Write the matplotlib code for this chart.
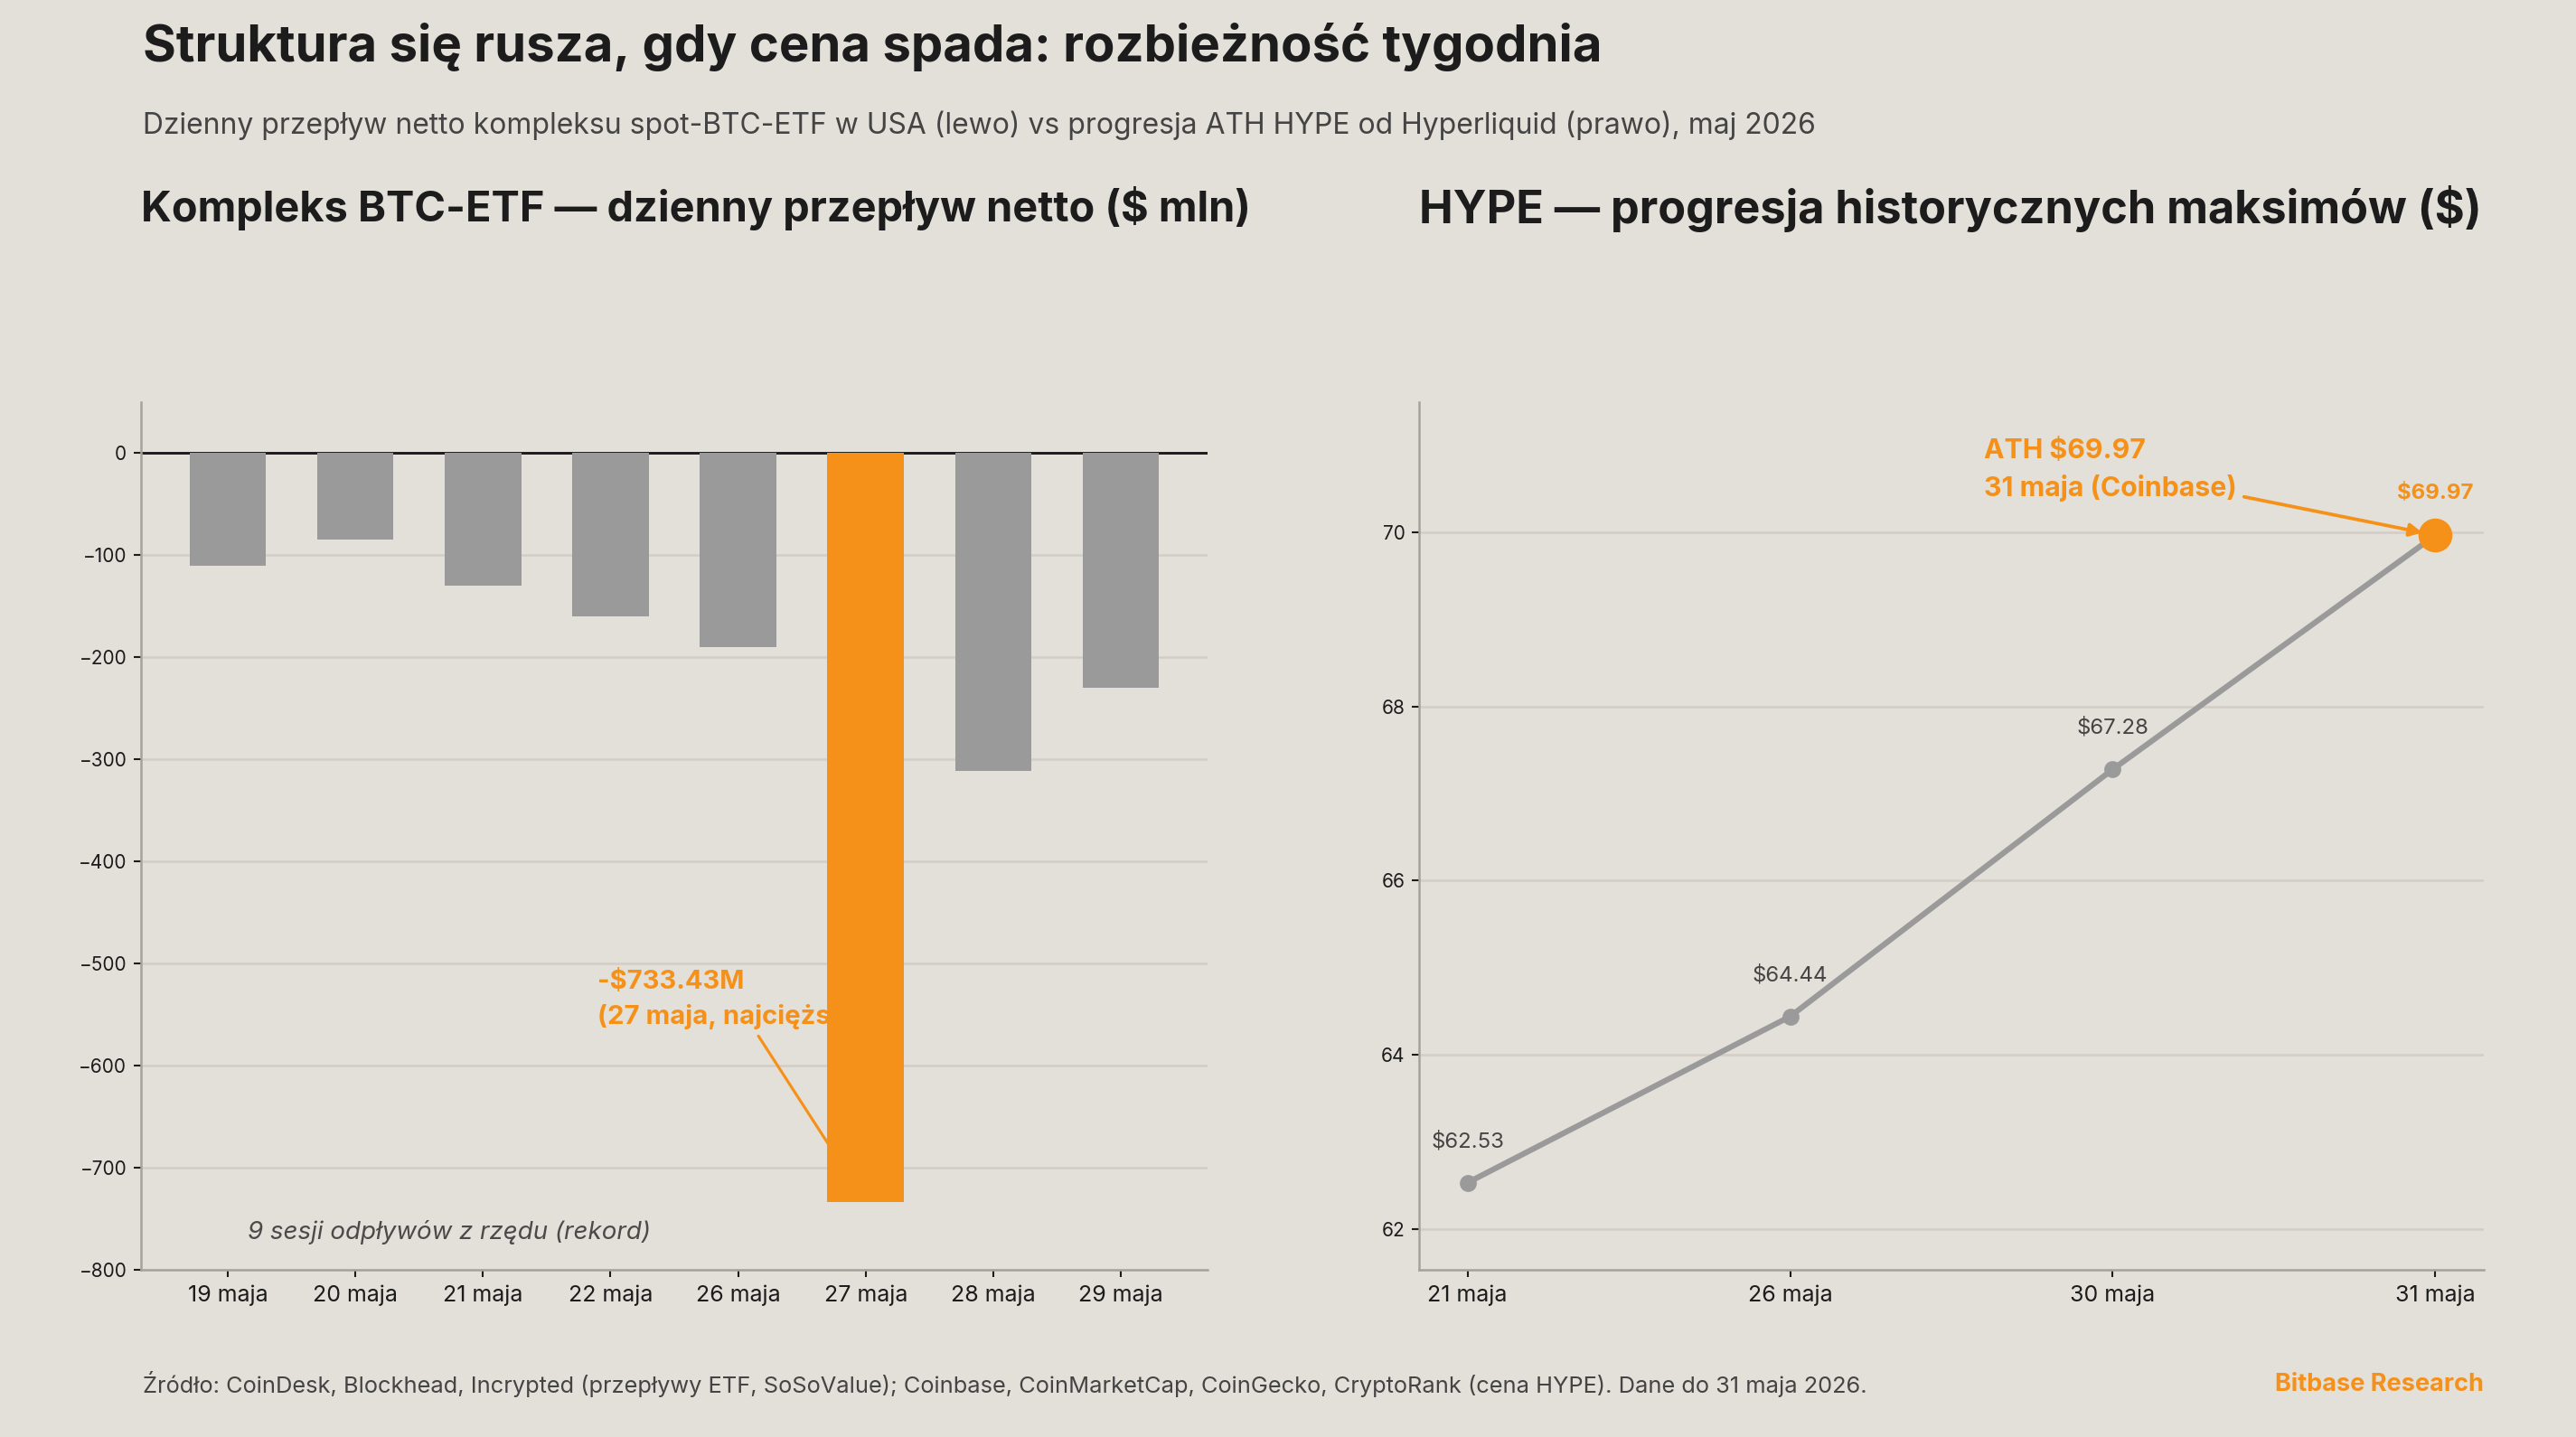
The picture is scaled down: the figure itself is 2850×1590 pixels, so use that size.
import matplotlib
matplotlib.use("Agg")
import matplotlib.pyplot as plt

BG = '#E3DFD9'
GRAY = '#9A9A9A'
ORANGE = '#F59118'
GRID = '#D2CDC6'
DARK = '#1C1C1C'
MID = '#444444'

plt.rcParams['font.family'] = ['Inter', 'DejaVu Sans']

# left panel: daily net flow, $ mln
etf_days = ['19 maja', '20 maja', '21 maja', '22 maja', '26 maja', '27 maja', '28 maja', '29 maja']
etf_flows = [-110, -85, -130, -160, -190, -733.43, -311, -230]
record_day = '27 maja'

# right panel: HYPE ATH progression
hype_days = ['21 maja', '26 maja', '30 maja', '31 maja']
hype_ath = [62.53, 64.44, 67.28, 69.97]

fig = plt.figure(figsize=(19, 10.6), dpi=150, facecolor=BG)

ax1 = fig.add_axes([0.0547, 0.1164, 0.4141, 0.6038], facecolor=BG)
ax2 = fig.add_axes([0.5509, 0.1164, 0.4133, 0.6038], facecolor=BG)

for ax in (ax1, ax2):
    for s in ('top', 'right'):
        ax.spines[s].set_visible(False)
    for s in ('left', 'bottom'):
        ax.spines[s].set_color('#A5A29E')
        ax.spines[s].set_linewidth(1.2)
    ax.grid(axis='y', color=GRID, linewidth=1.2, zorder=0)
    ax.set_axisbelow(True)
    ax.tick_params(axis='both', colors=DARK, length=4, width=1)
    ax.tick_params(axis='y', labelsize=10)
    ax.tick_params(axis='x', labelsize=12, pad=4)

# --- bars
x = list(range(len(etf_days)))
colors = [ORANGE if d == record_day else GRAY for d in etf_days]
ax1.bar(x, etf_flows, width=0.6, color=colors, zorder=3)
ax1.axhline(0, color=DARK, linewidth=1.4, zorder=2)
ax1.set_xticks(x)
ax1.set_xticklabels(etf_days)
ax1.set_xlim(-0.68, 7.68)
ax1.set_ylim(-800, 50)
ax1.set_yticks(range(-800, 1, 100))

ri = etf_days.index(record_day)
ax1.annotate(f"-${abs(etf_flows[ri]):.2f}M\n(27 maja, najcięższy)",
             xy=(ri, etf_flows[ri]), xytext=(2.9, -535),
             ha='left', va='center', fontsize=14, fontweight='bold', color=ORANGE,
             linespacing=1.5, zorder=1,
             arrowprops=dict(arrowstyle='-', color=ORANGE, lw=1.5, zorder=1))
ax1.text(0.16, -763, "9 sesji odpływów z rzędu (rekord)", fontsize=13.3,
         style='italic', color='#4A4A4A', va='center', ha='left')

# --- line
xh = list(range(len(hype_days)))
ax2.plot(xh, hype_ath, color=GRAY, linewidth=3, marker='o', markersize=8,
         markerfacecolor=GRAY, markeredgecolor=GRAY, zorder=3)
ax2.plot(xh[-1], hype_ath[-1], 'o', color=ORANGE, markersize=17, zorder=4)
for xi, v in zip(xh[:-1], hype_ath[:-1]):
    ax2.annotate(f"${v:.2f}", (xi, v), xytext=(0, 22), textcoords='offset points',
                 ha='center', va='center', fontsize=11.5, color=MID)
ax2.annotate(f"${hype_ath[-1]:.2f}", (xh[-1], hype_ath[-1]), xytext=(0, 22),
             textcoords='offset points', ha='center', va='center',
             fontsize=11.5, color=ORANGE, fontweight='bold')
ax2.annotate(f"ATH ${hype_ath[-1]:.2f}\n31 maja (Coinbase)",
             xy=(xh[-1], hype_ath[-1]), xytext=(1.6, 70.72),
             ha='left', va='center', fontsize=14.5, fontweight='bold', color=ORANGE,
             linespacing=1.5,
             arrowprops=dict(arrowstyle='-|>', color=ORANGE, lw=1.8,
                             mutation_scale=14, shrinkB=7))
ax2.set_xticks(xh)
ax2.set_xticklabels(hype_days)
ax2.set_xlim(-0.15, 3.15)
ax2.set_ylim(61.53, 71.5)
ax2.set_yticks([62, 64, 66, 68, 70])

# --- titles and footer
fig.text(0.0554, 0.967, "Struktura się rusza, gdy cena spada: rozbieżność tygodnia",
         fontsize=27, fontweight='bold', color=DARK, va='center', ha='left')
fig.text(0.0554, 0.913,
         "Dzienny przepływ netto kompleksu spot-BTC-ETF w USA (lewo) vs progresja ATH HYPE od Hyperliquid (prawo), maj 2026",
         fontsize=15.3, color=MID, va='center', ha='left')
fig.text(0.0547, 0.855, "Kompleks BTC-ETF — dzienny przepływ netto ($ mln)",
         fontsize=22.5, fontweight='bold', color=DARK, va='center', ha='left')
fig.text(0.5509, 0.855, "HYPE — progresja historycznych maksimów ($)",
         fontsize=24.2, fontweight='bold', color=DARK, va='center', ha='left')
fig.text(0.0554, 0.0365,
         "Źródło: CoinDesk, Blockhead, Incrypted (przepływy ETF, SoSoValue); Coinbase, CoinMarketCap, CoinGecko, CryptoRank (cena HYPE). Dane do 31 maja 2026.",
         fontsize=12.2, color=MID, va='center', ha='left')
fig.text(0.9642, 0.0365, "Bitbase Research", fontsize=13, fontweight='bold',
         color=ORANGE, va='center', ha='right')

fig.savefig('out.png', dpi=150, facecolor=BG)
